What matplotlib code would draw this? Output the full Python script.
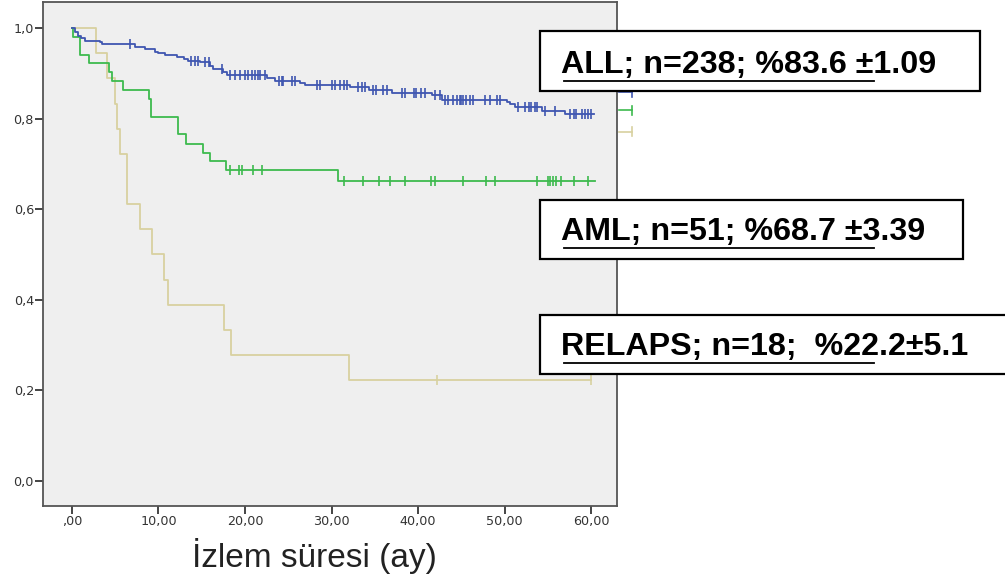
import numpy as np
import matplotlib
matplotlib.use("Agg")
import matplotlib.pyplot as plt
from matplotlib.patches import Rectangle
from matplotlib.lines import Line2D

plt.rcParams['font.family'] = ['Liberation Sans', 'DejaVu Sans']

# ---------------- data ----------------
# ALL group (n=238)
all_t = [0, 0.4, 0.7, 1.0, 1.5, 3.2, 3.5, 7.3, 8.4, 9.6, 10.0, 10.8, 12.1, 12.9, 13.4,
         14.8, 15.9, 16.3, 17.5, 17.9, 22.5, 23.5, 26.4, 26.9, 32.1, 34.3, 37.0, 41.6,
         42.8, 50.3, 50.6, 51.2, 54.3, 57.0]
all_s = [1.0, 0.992, 0.983, 0.979, 0.972, 0.968, 0.965, 0.957, 0.953, 0.947, 0.944, 0.940,
         0.935, 0.931, 0.928, 0.924, 0.916, 0.910, 0.903, 0.896, 0.889, 0.884, 0.879, 0.875,
         0.870, 0.864, 0.857, 0.851, 0.842, 0.836, 0.832, 0.826, 0.817, 0.811]
all_end = 60.3
all_cens = [6.7, 13.8, 14.2, 14.6, 15.4, 15.8, 17.3, 18.3, 18.8, 19.4, 20.0, 20.4, 20.8,
            21.2, 21.5, 21.7, 22.3, 23.9, 24.3, 24.4, 25.4, 25.8, 28.3, 28.7, 30.0, 30.4,
            31.0, 31.4, 31.8, 33.1, 33.5, 33.9, 34.8, 35.2, 36.0, 36.4, 38.1, 38.5, 39.5,
            39.8, 40.4, 40.8, 42.0, 42.5, 43.1, 43.5, 44.1, 44.5, 44.8, 45.0, 45.2, 45.6,
            46.0, 46.4, 47.7, 48.3, 49.1, 49.5, 51.6, 52.4, 52.8, 53.1, 53.5, 53.7, 54.7,
            55.8, 57.6, 58.0, 58.3, 58.9, 59.3, 59.7, 60.0]

# AML group (n=51)
aml_t = [0, 0.1, 0.9, 2.0, 4.3, 4.6, 5.9, 8.9, 9.1, 12.2, 13.2, 15.1, 16.0, 17.8, 30.7]
aml_s = [1.0, 0.980, 0.941, 0.922, 0.902, 0.882, 0.863, 0.843, 0.804, 0.765, 0.745,
         0.725, 0.706, 0.686, 0.662]
aml_end = 60.4
aml_cens = [18.3, 19.3, 19.7, 20.9, 22.0, 31.5, 33.6, 35.5, 36.8, 38.5, 41.5, 42.0, 45.2,
            47.9, 48.9, 53.8, 55.0, 55.3, 55.6, 55.9, 56.5, 58.0, 59.7]

# RELAPS group (n=18)
rel_t = [0, 2.8, 4.0, 5.0, 5.2, 5.5, 6.4, 7.9, 9.2, 10.6, 11.1, 17.6, 18.4, 32.0]
rel_s = [1.0, 0.944, 0.889, 0.833, 0.778, 0.722, 0.611, 0.556, 0.500, 0.444, 0.389,
         0.333, 0.278, 0.222]
rel_end = 60.0
rel_cens = [42.2, 60.0]

x_ticks = [0, 10, 20, 30, 40, 50, 60]
x_labels = [',00', '10,00', '20,00', '30,00', '40,00', '50,00', '60,00']
y_ticks = [0.0, 0.2, 0.4, 0.6, 0.8, 1.0]
y_labels = ['0,0', '0,2', '0,4', '0,6', '0,8', '1,0']

x_title = '\u0130zlem s\u00fcresi (ay)'
box_texts = ['ALL; n=238; %83.6 \u00b11.09', 'AML; n=51; %68.7 \u00b13.39',
             'RELAPS; n=18;  %22.2\u00b15.1']

col_all = '#3f56b0'
col_aml = '#3dba4e'
col_rel = '#d8d1a0'

# ---------------- figure ----------------
W, H = 1005, 583
fig = plt.figure(figsize=(W / 100, H / 100), dpi=100)
fig.patch.set_facecolor('white')

def fx(px):
    return px / W

def fy(py):
    return 1 - py / H

ax = fig.add_axes([fx(43), fy(506), fx(617) - fx(43), fy(2) - fy(506)])
ax.set_facecolor('#efefef')
ax.set_xlim(-3.35, 63.0)
ax.set_ylim(-0.0552, 1.0574)


def draw_km(t, s, end, cens, color, lw=1.3):
    xs = list(t) + [end]
    ys = list(s) + [s[-1]]
    ax.step(xs, ys, where='post', color=color, lw=lw, zorder=3)
    cy = [s[np.searchsorted(t, c, side='right') - 1] for c in cens]
    ax.plot(cens, cy, linestyle='none', marker='|', markersize=7, mew=1.2,
            color=color, zorder=4)


draw_km(rel_t, rel_s, rel_end, rel_cens, col_rel)
draw_km(aml_t, aml_s, aml_end, aml_cens, col_aml)
draw_km(all_t, all_s, all_end, all_cens, col_all)

ax.set_xticks(x_ticks)
ax.set_xticklabels(x_labels)
ax.set_yticks(y_ticks)
ax.set_yticklabels(y_labels)
ax.tick_params(axis='both', direction='out', length=5.5, width=1.4, color='#444444',
               labelsize=9.2, labelcolor='#333333', pad=1)
for lab in ax.get_xticklabels() + ax.get_yticklabels():
    lab.set_fontfamily('DejaVu Sans')
for sp in ax.spines.values():
    sp.set_color('#555555')
    sp.set_linewidth(1.3)

fig.text(fx(314), fy(567), x_title, fontsize=24, color='#222222',
         ha='center', va='baseline')

# legend stubs at right edge (clipped SPSS legend)
for py, c in [(92, col_all), (110, col_aml), (131.5, col_rel)]:
    fig.add_artist(Line2D([fx(619), fx(632)], [fy(py), fy(py)], color=c, lw=1.2,
                          transform=fig.transFigure))
    fig.add_artist(Line2D([fx(632), fx(632)], [fy(py - 4.5), fy(py + 4.5)], color=c,
                          lw=1.2, transform=fig.transFigure))

# annotation boxes
boxes = [(540, 31.5, 980, 91, 72.7, 80.5),
         (540, 200, 962.5, 259, 240, 248.5),
         (540, 315, 1012, 373.5, 355, 363)]
for (l, t, r, b, base, ul), txt in zip(boxes, box_texts):
    fig.add_artist(Rectangle((fx(l), fy(b)), fx(r) - fx(l), fy(t) - fy(b),
                             transform=fig.transFigure, facecolor='white',
                             edgecolor='black', lw=1.6, zorder=10))
    fig.text(fx(560.5), fy(base), txt, fontsize=23.2, fontweight='bold', color='black',
             ha='left', va='baseline', zorder=11)
    fig.add_artist(Line2D([fx(564), fx(874)], [fy(ul), fy(ul)], color='black', lw=1.3,
                          transform=fig.transFigure, zorder=11))

fig.savefig('out.png', dpi=100)
